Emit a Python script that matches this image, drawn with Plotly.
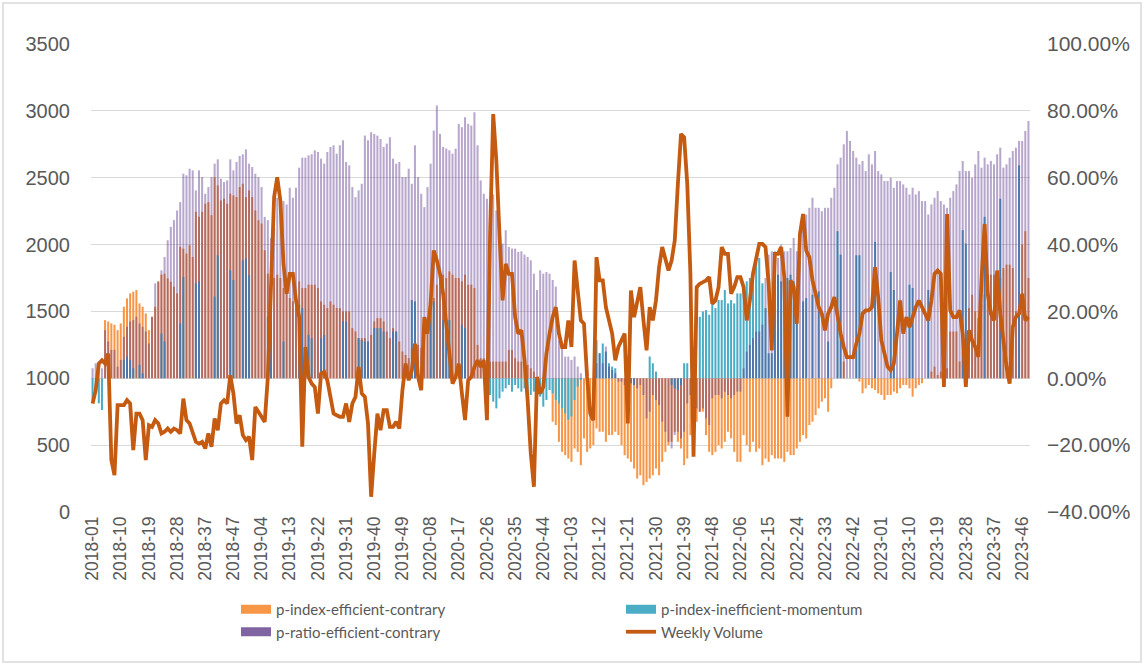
import plotly.graph_objects as go

# ---------------- data ----------------
tick_labels = ["2018-01", "2018-10", "2018-19", "2018-28", "2018-37", "2018-47",
               "2019-04", "2019-13", "2019-22", "2019-31", "2019-40", "2019-49",
               "2020-08", "2020-17", "2020-26", "2020-35", "2020-44",
               "2021-03", "2021-12", "2021-21", "2021-30", "2021-39", "2021-48",
               "2022-06", "2022-15", "2022-24", "2022-33", "2022-42",
               "2023-01", "2023-10", "2023-19", "2023-28", "2023-37", "2023-46"]

# weekly categories: every labelled week followed by the unlabelled weeks after it
weeks = []
for k, t in enumerate(tick_labels):
    n_after = 8 if k < len(tick_labels) - 1 else 2
    yr, wk = map(int, t.split("-"))
    weeks.append(t)
    for _ in range(n_after):
        wk += 1
        if wk > 52:
            yr += 1
            wk = 1
        weeks.append(f"{yr}-{wk:02d}")

# p-ratio-efficient-contrary (%), right axis
p_ratio_efficient_contrary = [
    3, 4.5, 4, 3, 14.4, 11, 8.5, 8.5, 3.5, 5.5,
    12.4, 15.4, 17, 17.4, 18.4, 16.4, 15.4, 14, 10.4, 18.4,
    28.4, 28.9, 32.3, 36.3, 41.3, 45.3, 47.3, 50.2, 52.7, 61.2,
    60.7, 62.7, 62.2, 56.2, 62.2, 60.2, 55.2, 57.2, 60.2, 64.2,
    65.5, 59.7, 58.7, 59.2, 65.5, 62.2, 64.7, 66.5, 67, 68.5,
    64.2, 63.2, 61.2, 60.2, 57.2, 48.3, 47.3, 42, 45, 54,
    53, 53, 52, 57, 54, 57, 63, 66, 66, 66.7,
    67, 68.2, 67.7, 65.7, 64.2, 67.7, 69.2, 69.7, 67.2, 69.7,
    71.2, 64.7, 63.7, 57.2, 54.2, 56.2, 58.2, 72.6, 71.2, 73.6,
    73.1, 72.6, 71.6, 69.2, 70.2, 72.1, 65.7, 64.2, 64.7, 60.2,
    60.2, 62.7, 58.2, 69.7, 60.2, 55.2, 51.2, 57.2, 64.2, 74.1,
    81.6, 73.1, 69.2, 68.7, 68.2, 67.2, 68.7, 76.1, 75.1, 78.1,
    76.1, 75.6, 79.6, 69.7, 59.2, 55.2, 53.7, 50.2, 55, 50.2,
    44.3, 40.3, 44.3, 39.3, 38.8, 38.8, 37.8, 38, 37, 36.3,
    35.3, 31.3, 26.4, 32.3, 31.3, 31.8, 31.3, 29.4, 27.4, 11.4,
    9.5, 6.5, 6.5, 5.5, 6.5, 3.5, 1.5, 0, 0, 0,
    0, 4.5, 7.5, 4.5, 9.5, 3.5, 2.5, 1.5, -1, -1,
    -2, -1.5, -1.5, -2, -3, -2, -5, -12, -10, -5,
    -6.5, -8, -13, -16, -19, -21, -17, -16, -18, -16,
    -7.5, -5, -8, -9, -10, -9, -12, -14, -6, -5,
    -5, -6, -4, -5, -6, -5, -4, -4, 3, 8,
    10, 12, 14, 14, 16, 30, 37, 38, 38, 36,
    40, 38, 38, 39, 42, 38, 35, 48, 49, 51,
    54, 51, 51, 50, 51, 51, 54, 57, 64, 66,
    70, 74, 71, 68, 66, 64, 65, 62, 67, 64,
    68, 62, 61, 59, 59, 60, 57, 59, 59, 58,
    57, 55, 57, 55, 56, 53, 53, 49, 52, 54,
    56, 53, 52, 51, 54, 56, 58, 62, 65, 62,
    62, 60, 64, 68, 63, 66, 64, 65, 64, 67,
    69, 63, 64, 66, 68, 69, 71, 71, 74, 77,
]

# p-index-efficient-contrary (%), right axis
p_index_efficient_contrary = [
    0, 0, 0, 0, 17.4, 17, 16.4, 16, 14.4, 16.4,
    21.4, 23.9, 25.4, 25.9, 26.4, 22.4, 21.4, 19.4, 14.4, 18.4,
    21.4, 29, 31, 31.3, 29.9, 28.9, 27.4, 25.4, 39.3, 38.8,
    37.3, 39.8, 36.3, 49.8, 48.3, 49.8, 52.2, 52.7, 48.8, 60.2,
    57.7, 53.2, 53.7, 52.2, 55.2, 54.7, 54.2, 57.2, 58.2, 54.2,
    56.2, 54.2, 50.2, 47.3, 46.3, 38.3, 31.3, 28, 30, 31,
    30, 27, 26, 24, 23, 24, 29, 27, 27, 28,
    28, 28, 27, 23, 22, 21, 23, 22, 21, 21,
    20, 20, 20, 15, 14, 12, 12, 12, 11, 13,
    17, 18, 18, 17, 14, 12, 15, 14, 11, 8,
    7, 6, 9, 12, 10, 9, 18, 18, 24, 24,
    28, 31, 31, 30, 32, 31, 30, 30, 29, 31,
    28, 28, 27, 10, 6, 6, 6, 5, 5, 5,
    5, 5, 5, 8.5, 8.5, 6, 5, 5, 4, 4,
    3, 2, 0, 0, 0, 0, 0, -13, -14, -19,
    -22, -23, -24, -25, -21, -22, -26, -18, -22, -21,
    -20, -15, -16, -16, -19, -17, -17, -16, -17, -20,
    -23, -24, -25, -27, -30, -29, -32, -31, -30, -29,
    -27, -29, -25, -22, -20, -19, -16, -19, -21, -26,
    -24, -17, -18, -13, -10, -10, -17, -22, -23, -22,
    -20, -21, -19, -16, -18, -22, -25, -25, -17, -20,
    -22, -19, -22, -21, -26, -24, -25, -23, -24, -24,
    -24, -25, -22, -23, -23, -21, -19, -17, -18, -14,
    -13, -11, -9, -7, -6, -10, -3, 0, 0, 0,
    5, 0, 0, 0, 0, -1, -4.5, -3, -2, -3,
    -3.5, -4.5, -5, -6.5, -5, -5, -4, -4.5, -3, -2,
    -2, -3, -5.5, -3, -2, -1.5, 0, 0, 2, 3.5,
    1, 2, 0, 3, 14, 14, 14, 5, 8, 12,
    21, 25, 20, 18, 22, 25, 31, 31, 31, 25,
    30, 33, 34, 34, 33, 20, 10, 40, 44, 30,
]

# p-index-inefficient-momentum (%), right axis
p_index_inefficient_momentum = [
    -6.5, -4.5, -7.5, -9.5, 0, 0, 0, 0, 0, 0,
    5.5, 6.5, 5.5, 3, 0, 4, 1.5, 0, 0, 0,
    0, 0, 13.4, 11, 0, 0, 0, 0, 16.4, 30.3,
    0, 0, 0, 28.4, 28.9, 0, 0, 0, 0, 24.4,
    36.8, 0, 0, 0, 32.3, 29.4, 0, 0, 35.3, 35.8,
    30.8, 0, 0, 0, 0, 0, 18.4, 17, 0, 0,
    0, 11, 0, 0, 0, 0, 22, 21, 0, 13,
    12, 0, 0, 12, 13, 0, 0, 0, 0, 0,
    17, 17, 0, 0, 0, 12, 11.4, 11, 11, 0,
    15, 15, 15, 14, 0, 0, 14, 14, 0, 0,
    0, 0, 23.4, 23, 0, 0, 0, 0, 23.4, 23,
    0, 0, 17.4, 17.4, 17.4, 0, 0, 0, 16, 15,
    0, 0, 0, 0, 0, 0, 0, -5, -7, -9,
    -6, -4, -3, -2, -4, -2, -3, -4, -3, -5,
    -5, -4, -5.5, -5.5, -8.5, -6.5, -3.5, -4.5, -6.5, -7.5,
    -9, -10.5, -12.4, -11.4, -6.5, -2.5, -0.5, 0, 0, 0,
    0, 11.4, 7.5, 10.4, 8, 4.5, 3.5, 3, 0, 0,
    0, 0, -1.5, -2, 0, 0, 0, 0, 6.5, 4.5,
    2, 0, 0, 0, 0, -2, -3, -3.5, -2, 4.5,
    4.5, 0, 0, 0, 18.4, 20, 20.4, 19, 22.4, 21,
    23.4, 23.4, 26.4, 22.4, 23.4, 22.4, 25.4, 25.4, 27, 29,
    30, 32, 35, 36, 28.4, 21, 7.5, 7.5, 30, 31,
    29, 29, 30, 31, 29, 27, 0, 23, 24, 0,
    25, 0, 26, 0, 0, 11, 0, 0, 44, 37,
    0, 0, 0, 0, 36.8, 36.8, 0, 0, 0, 0,
    40.8, 0, 0, 0, 0, 31.8, 26.4, 0, 0, 0,
    0, 28, 27, 0, 0, 0, 0, 26.4, 0, 0,
    0, 0, 0, 0, 0, 0, 0, 0, 44.3, 40.3,
    0, 0, 0, 0, 0, 48.3, 0, 0, 0, 0,
    53.7, 0, 0, 0, 0, 0, 63.7, 0, 0, 0,
]

# Weekly Volume, left axis
weekly_volume = [
    811, 911, 1110, 1135, 1110, 1184, 388, 276, 799, 799,
    799, 836, 811, 463, 736, 736, 687, 388, 649, 637,
    687, 662, 587, 600, 624, 600, 624, 612, 587, 848,
    687, 662, 587, 525, 512, 525, 475, 587, 488, 699,
    612, 811, 836, 811, 1023, 886, 662, 724, 575, 537,
    562, 388, 786, 749, 712, 674, 1010, 1632, 2354, 2503,
    2329, 1856, 1632, 1781, 1781, 1582, 1458, 488, 1234, 1010,
    960, 935, 736, 1035, 1047, 985, 861, 736, 724, 712,
    712, 811, 674, 811, 861, 1085, 886, 861, 662, 114,
    438, 736, 612, 761, 761, 637, 637, 674, 624, 911,
    1110, 985, 1060, 1259, 1010, 911, 1458, 1334, 1557, 1956,
    1881, 1781, 1632, 1383, 1135, 960, 1010, 1110, 886, 687,
    985, 1010, 1085, 1135, 1085, 1135, 687, 2080, 2976, 2627,
    2080, 1582, 1856, 1781, 1781, 1458, 1334, 1359, 1135, 836,
    438, 189, 1010, 886, 935, 1184, 1334, 1458, 1532, 1334,
    1234, 1234, 1433, 1234, 1881, 1682, 1433, 1408, 1010, 736,
    687, 1906, 1732, 1732, 1532, 1433, 1334, 1135, 1234, 1284,
    1334, 662, 1657, 1458, 1582, 1682, 1433, 1209, 1532, 1433,
    1582, 1831, 1981, 1881, 1806, 1881, 2030, 2453, 2827, 2802,
    2453, 1781, 413, 1682, 1707, 1719, 1732, 1757, 1557, 1582,
    1682, 1981, 1931, 1931, 1632, 1682, 1757, 1757, 1682, 1433,
    1582, 1781, 1906, 2005, 2005, 1981, 1707, 1209, 1931, 1931,
    1981, 1757, 712, 1732, 1682, 1408, 2080, 2229, 1956, 1906,
    1732, 1632, 1532, 1483, 1358, 1483, 1532, 1607, 1458, 1334,
    1234, 1159, 1159, 1159, 1259, 1334, 1483, 1508, 1508, 1532,
    1831, 1607, 1284, 1184, 1085, 1060, 1110, 1334, 1582, 1334,
    1458, 1383, 1458, 1532, 1582, 1532, 1483, 1433, 1582, 1781,
    1806, 1781, 935, 2229, 1508, 1458, 1458, 1508, 1334, 935,
    1358, 1284, 1234, 1159, 1732, 2154, 1632, 1483, 1433, 1806,
    1483, 1284, 1085, 960, 1383, 1458, 1483, 1632, 1433, 1458,
]

# ---------------- styling ----------------
ORANGE = "#F79646"
BLUE = "#4BACC6"
PURPLE = "#8064A2"
LINE = "#C55A11"
TXT = "#595959"
GRID = "#D9D9D9"

fig = go.Figure()

# bars: orange and blue solid, purple translucent on top
fig.add_trace(go.Bar(x=weeks, y=p_index_efficient_contrary, yaxis="y",
                     marker=dict(color=ORANGE, line=dict(width=0)),
                     showlegend=False, name="p-index-efficient-contrary"))
fig.add_trace(go.Bar(x=weeks, y=p_index_inefficient_momentum, yaxis="y",
                     marker=dict(color=BLUE, line=dict(width=0)),
                     showlegend=False, name="p-index-inefficient-momentum"))
fig.add_trace(go.Bar(x=weeks, y=p_ratio_efficient_contrary, yaxis="y",
                     marker=dict(color="rgba(85,45,135,0.42)", line=dict(width=0)),
                     showlegend=False, name="p-ratio-efficient-contrary"))

# legend entries with wide solid swatches
for nm, col, rank in [("p-index-efficient-contrary", ORANGE, 1),
                      ("p-index-inefficient-momentum", BLUE, 2),
                      ("p-ratio-efficient-contrary", PURPLE, 3)]:
    fig.add_trace(go.Scatter(x=[None], y=[None], name=nm, mode="lines",
                             line=dict(color=col, width=9), legendrank=rank, yaxis="y"))

fig.add_trace(go.Scatter(x=weeks, y=weekly_volume, mode="lines", name="Weekly Volume",
                         line=dict(color=LINE, width=3.8), yaxis="y2", legendrank=4))

L, R, T, B = 91, 115, 44, 154
W, H = 1145, 666
pw, ph = W - L - R, H - T - B

fig.update_layout(
    width=W, height=H,
    margin=dict(l=L, r=R, t=T, b=B),
    paper_bgcolor="white", plot_bgcolor="white",
    barmode="overlay", bargap=0.35,
    font=dict(family="Liberation Sans, Arial, sans-serif", color=TXT),
    xaxis=dict(type="category", tickmode="array", tickvals=tick_labels, ticktext=tick_labels,
               tickangle=-90, tickfont=dict(size=17.5, color=TXT), showgrid=False,
               zeroline=False, showline=False, ticks="", range=[-0.5, len(weeks) - 0.5]),
    yaxis=dict(side="right", range=[-40, 100], dtick=20, tick0=-40, tickformat=".2f",
               ticksuffix="%", showgrid=True, gridcolor=GRID, gridwidth=1.3, zeroline=False,
               showline=False, ticks="", tickfont=dict(size=21, color=TXT),
               ticklabelstandoff=16),
    yaxis2=dict(overlaying="y", side="left", range=[0, 3500], dtick=500, tick0=0,
                tickformat="d", showgrid=False, zeroline=False, showline=False, ticks="",
                tickfont=dict(size=20, color=TXT), ticklabelstandoff=20),
    legend=dict(orientation="h", x=(236 - L) / pw, xanchor="left",
                y=(ph - (593 - T)) / ph, yanchor="top",
                entrywidth=340, entrywidthmode="pixels",
                font=dict(family="Lato, Liberation Sans, sans-serif", size=15, color=TXT),
                traceorder="normal", bgcolor="rgba(0,0,0,0)"),
    shapes=[dict(type="rect", xref="paper", yref="paper",
                 x0=(3 - L) / pw, x1=(1141 - L) / pw,
                 y0=(ph - (662 - T)) / ph, y1=(ph - (3 - T)) / ph,
                 line=dict(color=GRID, width=1.5), fillcolor="rgba(0,0,0,0)", layer="below")],
)

fig.write_html("out.html", config={"displayModeBar": False},
               post_script="document.body.style.margin='0px';document.body.style.padding='0px';")
